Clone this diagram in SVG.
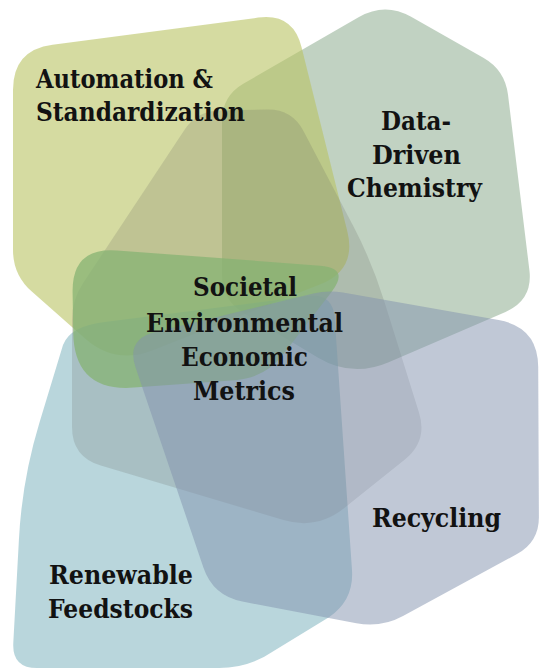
<svg xmlns="http://www.w3.org/2000/svg" width="539" height="670" viewBox="0 0 539 670">
<style>
.lbl{font-family:"DejaVu Serif","Liberation Serif",serif;font-weight:bold;font-size:26px;fill:#121212}
</style>
<rect width="539" height="670" fill="#ffffff"/>
<g id="node-data-driven">
<path d="M 243.7,83.5 L 359,17 Q 385,2 411.1,16.8 L 483.3,57.7 Q 505,70 508,94.8 L 529.4,270.2 Q 533,300 505.5,311.9 L 388.7,362.2 Q 352,378 317.7,357.4 L 243.5,312.9 Q 222,300 222,275 L 222,121 Q 222,96 243.7,83.5 Z" fill="#83a585" fill-opacity="0.5"/>
</g>
<g id="node-automation">
<path d="M 52.6,44.8 L 258.3,17.6 Q 293,13 301.5,47 L 347.3,231.2 Q 357,270 319.8,284.6 L 152.2,350.4 Q 115,365 85,338.5 L 31.8,291.6 Q 13,275 13,250 L 13,90 Q 13,50 52.6,44.8 Z" fill="#b9c362" fill-opacity="0.6"/>
</g>
<g id="node-renewable">
<path d="M 105,322 L 308,296 Q 333,293 334.7,318 L 352,570.1 Q 354,600 329.3,617 L 273.7,651 Q 249,668 219,668 L 37,668 Q 12,668 13.3,643 L 18.9,539.9 Q 22,480 39.5,422.6 L 63,345 Q 70,326 105,322 Z" fill="#73adb9" fill-opacity="0.5"/>
</g>
<g id="node-core-shape">
<path d="M 219,110.5 L 267,109.5 Q 292,109 303.6,131.2 L 353.5,226.6 Q 372,262 383.9,300.2 L 419,412.4 Q 428,441 404.6,459.8 L 344.3,508.1 Q 317,530 283.5,520 L 100.8,465.6 Q 72,457 72,427 L 72,320 Q 72,300 83,283.3 L 184.9,129.3 Q 197,111 219,110.5 Z" fill="#5f625a" fill-opacity="0.19"/>
</g>
<g id="node-metrics">
<path d="M 116.9,250.4 L 320.1,265.7 Q 350,268 331.7,291.7 L 283.3,354.3 Q 265,378 235.1,380.2 L 133.8,387.6 Q 74,392 73.2,332 L 72.6,292 Q 72,247 116.9,250.4 Z" fill="#86b373" fill-opacity="0.75"/>
</g>
<g id="node-recycling">
<path d="M 342.8,292.6 L 498.6,320.1 Q 538,327 538.2,367 L 538.9,517 Q 539,542 517,554 L 403,616 Q 381,628 356.4,623.3 L 242.5,601.6 Q 213,596 203.4,567.6 L 135.6,367.4 Q 126,339 155.2,331.9 L 313.4,293.5 Q 328,290 342.8,292.6 Z" fill="#8191ad" fill-opacity="0.5"/>
</g>
<g id="connectors"></g>
<g id="labels">
<text class="lbl" x="36" y="88" textLength="177" lengthAdjust="spacingAndGlyphs">Automation &amp;</text>
<text class="lbl" x="36" y="121" textLength="209" lengthAdjust="spacingAndGlyphs">Standardization</text>
<text class="lbl" x="381" y="130" textLength="70" lengthAdjust="spacingAndGlyphs">Data-</text>
<text class="lbl" x="372" y="164" textLength="89" lengthAdjust="spacingAndGlyphs">Driven</text>
<text class="lbl" x="347" y="197" textLength="135" lengthAdjust="spacingAndGlyphs">Chemistry</text>
<text class="lbl" x="193" y="296" textLength="104" lengthAdjust="spacingAndGlyphs">Societal</text>
<text class="lbl" x="146" y="332" textLength="197" lengthAdjust="spacingAndGlyphs">Environmental</text>
<text class="lbl" x="181" y="366" textLength="127" lengthAdjust="spacingAndGlyphs">Economic</text>
<text class="lbl" x="193" y="400" textLength="102" lengthAdjust="spacingAndGlyphs">Metrics</text>
<text class="lbl" x="372" y="527" textLength="129" lengthAdjust="spacingAndGlyphs">Recycling</text>
<text class="lbl" x="49" y="584" textLength="144" lengthAdjust="spacingAndGlyphs">Renewable</text>
<text class="lbl" x="48" y="618" textLength="145" lengthAdjust="spacingAndGlyphs">Feedstocks</text>
</g>
</svg>
